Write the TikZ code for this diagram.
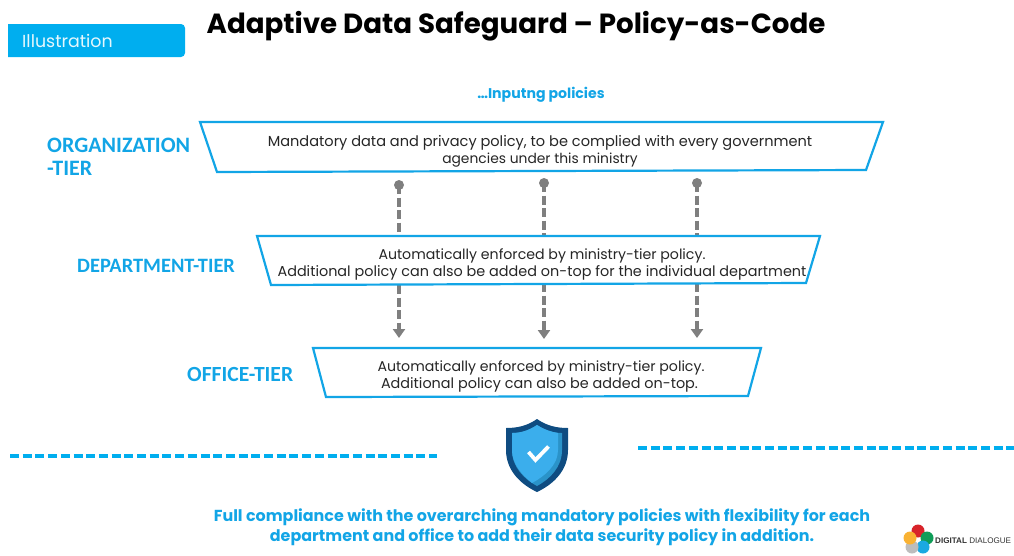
\documentclass[tikz,border=0pt]{standalone}
\usepackage{fontspec}
\setmainfont{Poppins}
\newfontfamily\lab{Carlito}
\newfontfamily\arl{Liberation Sans}
\usetikzlibrary{arrows.meta}
\definecolor{cy}{HTML}{00AEEF}
\definecolor{lb}{HTML}{12A5E6}
\definecolor{gr}{HTML}{7F7F7F}
\definecolor{tx}{HTML}{262626}
\definecolor{shout}{HTML}{0F4C81}
\definecolor{shin}{HTML}{3BAEEC}
\definecolor{shsh}{HTML}{2A93C9}
\newcommand{\linea}{\fontsize{14.15}{17}\selectfont}
\newcommand{\lineb}{\fontsize{14.4}{17}\selectfont}
\tikzset{
 tier/.style={draw=lb,line width=2.2pt,fill=white,line join=miter},
 tierlab/.style={text=lb,font=\lab\bfseries\fontsize{22}{23}\selectfont,align=left,inner sep=0pt},
 body/.style={text=tx,font=\fontsize{14.55}{17}\selectfont,align=center,inner sep=0pt},
 flow/.style={draw=gr,line width=3.6pt,dash pattern=on 9pt off 3.5pt},
 flowend/.style={flow,-{Triangle[length=9pt,width=12pt,fill=gr]}},
 sep/.style={draw=cy,line width=3.2pt,dash pattern=on 9pt off 3.7pt},
 dot/.style={circle,fill=gr,inner sep=0pt,minimum size=10pt},
 petal/.style={circle,inner sep=0pt,minimum size=13pt},
}
\begin{document}
\begin{tikzpicture}[x=1pt,y=-1pt]
\useasboundingbox (0,0) rectangle (1014,555);
% header
\fill[cy] (8,24) -- (181,24) arc[start angle=90,end angle=0,radius=4pt] -- (185,53) arc[start angle=0,end angle=-90,radius=4pt] -- (8,57) -- cycle;
\node[anchor=west,text=white!90!cy,font=\fontsize{17.4}{20}\selectfont,inner sep=0pt] (tag) at (22,41) {Illustration};
\node[font=\bfseries\fontsize{27.7}{30}\selectfont,text=black,inner sep=0pt] (title) at (516,26.5) {Adaptive Data Safeguard – Policy-as-Code};
\node[text=lb,font=\bfseries\fontsize{14.1}{18}\selectfont,inner sep=0pt] (inp) at (541,95) {…Inputng policies};
% connectors endpoints
\coordinate (a1) at (399,185); \coordinate (a2) at (544,183); \coordinate (a3) at (697,183);
\coordinate (b1) at (399,338); \coordinate (b2) at (544,339); \coordinate (b3) at (697,338);
\node[dot] (d1) at (a1) {}; \node[dot] (d2) at (a2) {}; \node[dot] (d3) at (a3) {};
\draw[flowend] (d1.center) -- (b1);
\draw[flowend] (d2.center) -- (b2);
\draw[flowend] (d3.center) -- (b3);
% tiers
\draw[tier] (200,122) -- (883,122) -- (866,170) -- (217,172) -- cycle;
\draw[tier] (257,236) -- (820,236) -- (806,283) -- (271,285) -- cycle;
\draw[tier] (313,348) -- (761,348) -- (748,396) -- (326,397) -- cycle;
\node[body] (t1) at (540,151) {Mandatory data and privacy policy, to be complied with every government\\{\fontsize{13.85}{17}\selectfont agencies under this ministry}};
\node[body,font=\lineb] (t2) at (542,264) {{\linea Automatically enforced by ministry-tier policy.}\\Additional policy can also be added on-top for the individual department};
\node[body,font=\lineb] (t3) at (541,376) {{\linea Automatically enforced by ministry-tier policy.}\\\hspace*{-3pt}Additional policy can also be added on-top.};
\node[tierlab,anchor=west] (l1) at (47,156.5) {ORGANIZATION\\-TIER};
\node[tierlab,anchor=west,font=\lab\bfseries\fontsize{20.4}{23}\selectfont] (l2) at (77,265.5) {DEPARTMENT-TIER};
\node[tierlab,anchor=west,font=\lab\bfseries\fontsize{21.6}{23}\selectfont] (l3) at (187,374.5) {OFFICE-TIER};
% separators
\coordinate (s1) at (10,456); \coordinate (s2) at (437,456);
\coordinate (s3) at (638,448); \coordinate (s4) at (1014,448);
\draw[sep] (s1) -- (s2);
\draw[sep] (s3) -- (s4);
% shield
\fill[shout] (537,419) .. controls (527,426) and (517,428) .. (506,428) -- (506,450) .. controls (506,470) and (520,484) .. (537,492) .. controls (554,484) and (568,470) .. (568,450) -- (568,428) .. controls (557,428) and (547,426) .. (537,419) -- cycle;
\fill[shsh] (537,425) .. controls (528,431) and (520,433) .. (512,433) -- (512,450) .. controls (512,467) and (524,479) .. (537,486) .. controls (550,479) and (562,467) .. (562,450) -- (562,433) .. controls (554,433) and (546,431) .. (537,425) -- cycle;
\fill[shin] (537,425) .. controls (528,431) and (520,433) .. (512,433) -- (512,450) .. controls (512,464) and (522,475) .. (532,483) .. controls (545,476) and (558,465) .. (558,450) -- (558,433) .. controls (552,432) and (545,430) .. (537,425) -- cycle;
\draw[white,line width=3.8pt] (528.5,452) -- (535.5,460) -- (548.5,446.5);
% bottom text
\node[text=lb,font=\bfseries\fontsize{15.93}{20}\selectfont,align=center,inner sep=0pt] (b) at (542,527.5) {Full compliance with the overarching mandatory policies with flexibility for each\\department and office to add their data security policy in addition.};
% logo
\definecolor{pr}{HTML}{D8232A}\definecolor{pg}{HTML}{0F9D58}\definecolor{pb}{HTML}{1BA9E1}\definecolor{pa}{HTML}{BDBDBD}\definecolor{po}{HTML}{F9B233}
\node[petal,fill=pr] (p1) at (918,531) {};
\node[petal,fill=pg] (p2) at (927,538) {};
\node[petal,fill=pb] (p3) at (923,547) {};
\node[petal,fill=pa] (p4) at (912,547) {};
\node[petal,fill=po] (p5) at (910,538) {};
\node[anchor=west,inner sep=0pt,font=\arl\fontsize{8.1}{10}\selectfont,text=black!80] (lg) at (935,541) {\textbf{DIGITAL} DIALOGUE};
\end{tikzpicture}
\end{document}
